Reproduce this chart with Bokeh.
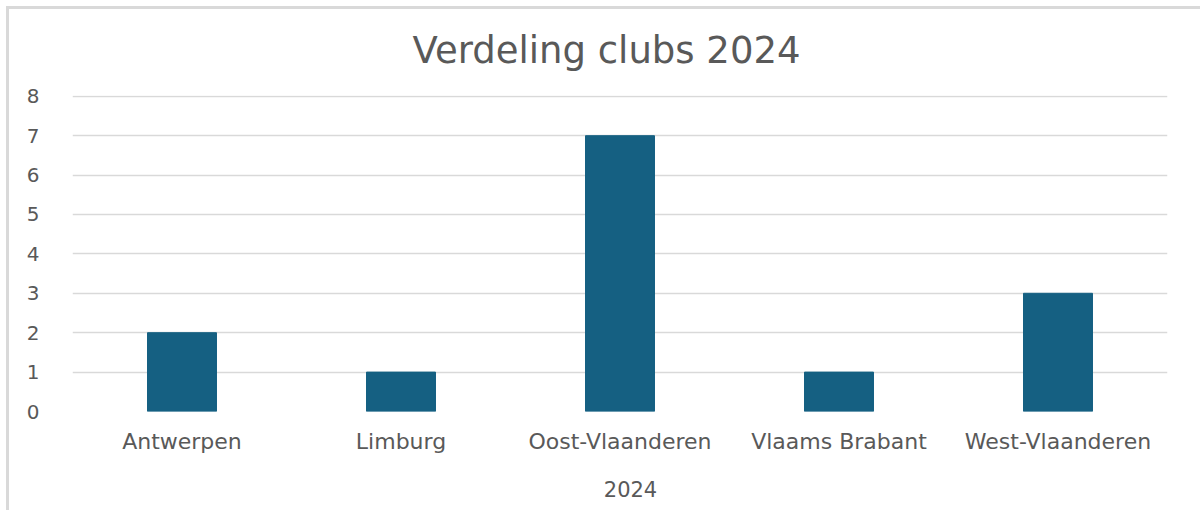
from bokeh.plotting import figure
from bokeh.layouts import column
from bokeh.models import ColumnDataSource, Legend, LegendItem, SingleIntervalTicker, Range1d
from bokeh.embed import file_html
from bokeh.resources import INLINE

regions = ["Antwerpen", "Limburg", "Oost-Vlaanderen", "Vlaams Brabant", "West-Vlaanderen"]
clubs_2024 = [2, 1, 7, 1, 3]
series_name = "2024"
title_text = "Verdeling clubs 2024"

FONT = "DejaVu Sans"
TXT = "#595959"
BAR = "#156082"
GRID = "#d9d9d9"

src = ColumnDataSource(dict(region=regions, value=clubs_2024))

p = figure(x_range=regions, y_range=Range1d(0, 8.02), frame_width=1095, frame_height=316,
           output_backend="svg", toolbar_location=None,
           min_border_left=72, min_border_right=33, min_border_top=95, min_border_bottom=59,
           border_fill_color=None, background_fill_color="white")
p.styles = {"background-color": "white",
            "box-shadow": "inset 6px 6px 0 0 #ffffff, inset 9px 9px 0 0 #d9d9d9"}

r = p.vbar(x="region", top="value", width=0.315, source=src, color=BAR)

p.title.text = title_text
p.title.align = "left"
p.title.offset = 340
p.title.standoff = 48
p.title.text_font = FONT
p.title.text_font_size = "37px"
p.title.text_font_style = "normal"
p.title.text_color = TXT

p.outline_line_color = None
p.xgrid.grid_line_color = None
p.ygrid.grid_line_color = GRID
p.ygrid.grid_line_width = 1.5

p.yaxis.ticker = SingleIntervalTicker(interval=1)
for ax in (p.xaxis, p.yaxis):
    ax.axis_line_color = None
    ax.major_tick_line_color = None
    ax.minor_tick_line_color = None
    ax.major_label_text_font = FONT
    ax.major_label_text_color = TXT
p.yaxis.major_label_text_font_size = "20px"
p.yaxis.major_label_standoff = 27
p.xaxis.major_label_text_font_size = "22px"
p.xaxis.major_label_standoff = 11

# legend strip below the chart
lf = figure(width=1200, height=40, x_axis_type=None, y_axis_type=None,
            output_backend="svg", toolbar_location=None,
            min_border_left=20, min_border_right=0, min_border_top=0, min_border_bottom=0,
            border_fill_color=None, background_fill_color=None, outline_line_color=None)
lf.styles = {"background-color": "white",
             "box-shadow": "inset 6px 0 0 0 #ffffff, inset 9px 0 0 0 #d9d9d9"}
lr = lf.vbar(x=[], top=[], width=1, color=BAR)

legend = Legend(items=[LegendItem(label=series_name, renderers=[lr])],
                orientation="horizontal", location="center",
                label_text_font=FONT, label_text_font_size="21px", label_text_color=TXT,
                glyph_width=16, glyph_height=11, label_standoff=6,
                border_line_color=None, background_fill_alpha=0, padding=0, margin=0)
lf.add_layout(legend)

lay = column(p, lf, spacing=0)

open("out.html", "w").write(file_html(lay, INLINE))
